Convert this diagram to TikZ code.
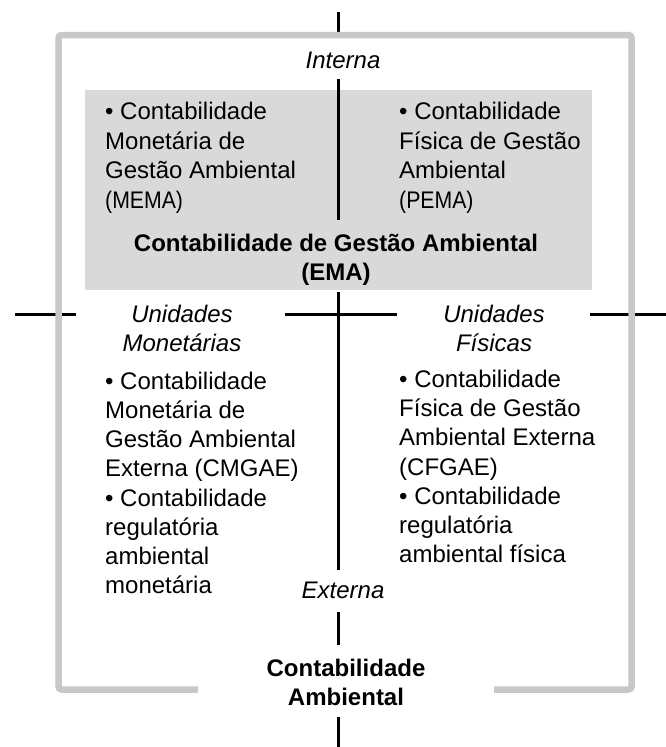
\documentclass[tikz,border=0pt]{standalone}
\usepackage{fontspec}
\usepackage{graphicx}
\setmainfont{Liberation Sans}
\definecolor{framegray}{RGB}{200,200,200}
\definecolor{boxgray}{RGB}{217,217,217}
\newcommand{\narrowabbr}[1]{\scalebox{0.885}[1]{#1}}
\begin{document}
\begin{tikzpicture}[x=1pt,y=-1pt,
  txt/.style={inner sep=0pt,font=\fontsize{24}{29.5}\selectfont},
  blocktxt/.style={txt,anchor=base west,align=left},
  lowblock/.style={blocktxt,font=\fontsize{24}{29.1}\selectfont},
  ctxt/.style={txt,anchor=base,align=center},
  axis/.style={line width=3pt,black},
  frameline/.style={line width=6.5pt,framegray,rounded corners=3pt}]
\useasboundingbox (0,0) rectangle (666,747);
% gray EMA box
\fill[boxgray] (85,90) rectangle (592,290);
% coordinates of the axis lines
\coordinate (v1a) at (338,12);   \coordinate (v1b) at (338,35);
\coordinate (v2a) at (338,79);   \coordinate (v2b) at (338,220);
\coordinate (v3a) at (338,292);  \coordinate (v3b) at (338,570);
\coordinate (v4a) at (338,612);  \coordinate (v4b) at (338,645);
\coordinate (v5a) at (338,717);  \coordinate (v5b) at (338,747);
\coordinate (h1a) at (15,314);   \coordinate (h1b) at (76,314);
\coordinate (h2a) at (285,314);  \coordinate (h2b) at (397,314);
\coordinate (h3a) at (590,314);  \coordinate (h3b) at (666,314);
\draw[axis] (v1a) -- (v1b);
\draw[axis] (v2a) -- (v2b);
\draw[axis] (v3a) -- (v3b);
\draw[axis] (v4a) -- (v4b);
\draw[axis] (v5a) -- (v5b);
\draw[axis] (h1a) -- (h1b);
\draw[axis] (h2a) -- (h2b);
\draw[axis] (h3a) -- (h3b);
% outer frame
\coordinate (fbl) at (198,689.5);
\coordinate (fbr) at (494,689.5);
\draw[frameline] (fbl) -- (58.5,689.5) -- (58.5,35) -- (631.5,35) -- (631.5,689.5) -- (fbr);
% texts (multi-line nodes are placed by the baseline of their last line)
\node[ctxt,font=\fontsize{24}{29.5}\selectfont\itshape] (interna) at (343,68) {Interna};
\node[blocktxt] (mema) at (105,208) {• Contabilidade\\Monetária de\\Gestão Ambiental\\\narrowabbr{(MEMA)}};
\node[blocktxt] (pema) at (399,208) {• Contabilidade\\Física de Gestão\\Ambiental\\\narrowabbr{(PEMA)}};
\node[ctxt,font=\fontsize{24}{29.5}\selectfont\bfseries] (ema) at (336,280.5) {Contabilidade de Gestão Ambiental\\(EMA)};
\node[ctxt,font=\fontsize{24}{29.5}\selectfont\itshape] (um) at (182,351.5) {Unidades\\Monetárias};
\node[ctxt,font=\fontsize{24}{29.5}\selectfont\itshape] (uf) at (494,351.5) {Unidades\\Físicas};
\node[lowblock] (cmgae) at (105,593.3) {• Contabilidade\\Monetária de\\Gestão Ambiental\\Externa (CMGAE)\\• Contabilidade\\regulatória\\ambiental\\monetária};
\node[lowblock] (cfgae) at (399,562.3) {• Contabilidade\\Física de Gestão\\Ambiental Externa\\(CFGAE)\\• Contabilidade\\regulatória\\ambiental física};
\node[ctxt,font=\fontsize{24}{29.5}\selectfont\itshape] (externa) at (343,598) {Externa};
\node[ctxt,font=\fontsize{24}{29.5}\selectfont\bfseries] (ca) at (346,705.5) {Contabilidade\\Ambiental};
\end{tikzpicture}
\end{document}
